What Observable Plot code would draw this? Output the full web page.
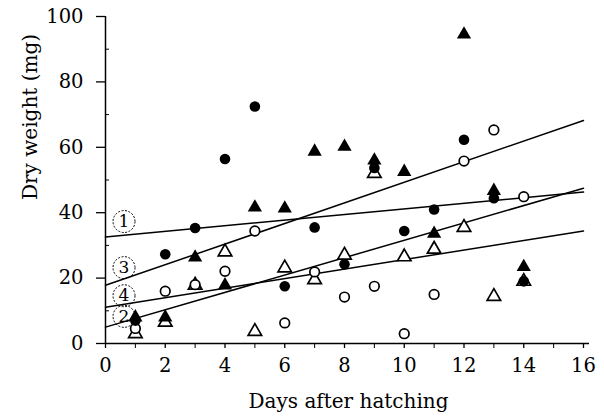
<!DOCTYPE html>
<html>
<head>
<meta charset="utf-8">
<script src="https://cdn.jsdelivr.net/npm/d3@7"></script>
<script src="https://cdn.jsdelivr.net/npm/@observablehq/plot@0.6"></script>
<style>
  html, body { margin: 0; padding: 0; background: #fff; }
  #chart svg { display: block; }
</style>
</head>
<body>
<div id="chart"></div>
<script>
// Days after hatching
const days = [1, 2, 3, 4, 5, 6, 7, 8, 9, 10, 11, 12, 13, 14];
// Dry weight (mg) per symbol series
const filledCircles   = [7, 27.3, 35.3, 56.4, 72.5, 17.5, 35.5, 24.2, 53.7, 34.4, 41, 62.3, 44.4, 19];
const filledTriangles = [8, 8, 26.3, 17.8, 41.6, 41.3, 58.7, 60.2, 56, 52.5, 33.6, 94.5, 46.7, 23.4];
const openCircles     = [4.6, 16, 18, 22.1, 34.4, 6.3, 21.9, 14.2, 17.5, 3, 15, 55.8, 65.3, 44.9];
const openTriangles   = [3, 6.5, 17.8, 28, 3.7, 23.1, 19.5, 27, 52, 26.5, 28.8, 35.5, 14.4, 19];

// Fitted lines: value at day 0 and at day 16
const lineIds    = ["1", "3", "4", "2"];
const lineStart  = [32.6, 17.8, 11.1, 5.0];
const lineEnd    = [46.3, 68.2, 34.4, 47.5];
const lineDays   = [0, 16];
// Circled line labels (day, mg)
const labelDay   = [0.62, 0.62, 0.62, 0.62];
const labelMg    = [37.3, 23.2, 14.6, 8.3];

// Axis ticks
const xTickLabels = [0, 2, 4, 6, 8, 10, 12, 14, 16];
const xMinorTicks = [1, 3, 5, 7, 9, 11, 13, 15];
const yTickLabels = [0, 20, 40, 60, 80, 100];
const yMinorTicks = [10, 30, 50, 70, 90];

const pts = (vals) => days.map((d, i) => ({day: d, mg: vals[i]}));
const lines = lineIds.flatMap((id, i) => [
  {id, day: lineDays[0], mg: lineStart[i]},
  {id, day: lineDays[1], mg: lineEnd[i]}
]);
const labels = lineIds.map((id, i) => ({id, day: labelDay[i], mg: labelMg[i]}));

const chart = Plot.plot({
  width: 604,
  height: 416,
  marginLeft: 105,
  marginRight: 21,
  marginTop: 16,
  marginBottom: 73,
  style: {fontFamily: "'DejaVu Serif', serif", fontSize: "19.5px", background: "#fff", color: "#000"},
  x: {domain: [0, 16]},
  y: {domain: [0, 100]},
  marks: [
    Plot.ruleX([0], {stroke: "#000", strokeWidth: 1.5}),
    Plot.ruleY([0], {stroke: "#000", strokeWidth: 1.5, insetRight: -6}),
    Plot.axisY(yTickLabels, {tickSize: 9, tickPadding: 13, label: null, strokeWidth: 1.3, fill: "#000"}),
    Plot.axisY(yMinorTicks, {tickSize: -4, tickFormat: () => "", label: null}),
    Plot.axisX(xMinorTicks, {tickSize: 5, tickFormat: () => "", label: null}),
    Plot.axisX(xTickLabels, {tickSize: 5, tickPadding: 10, label: null, strokeWidth: 1.3, fill: "#000"}),
    Plot.text(["Dry weight (mg)"], {frameAnchor: "left", dx: -75, dy: 20, rotate: -90, fontSize: 20, fill: "#000"}),
    Plot.text(["Days after hatching"], {frameAnchor: "bottom", dx: 4, dy: 64, fontSize: 20, fill: "#000"}),
    Plot.line(lines, {x: "day", y: "mg", z: "id", stroke: "#000", strokeWidth: 1.5}),
    Plot.dot(labels, {x: "day", y: "mg", r: 11, stroke: "#000", strokeWidth: 1, strokeDasharray: "2,1.5", fill: "none"}),
    Plot.text(labels, {x: "day", y: "mg", text: "id", fontSize: 17, fill: "#000"}),
    Plot.dot(pts(openTriangles), {x: "day", y: "mg", symbol: "triangle", r: 5, stroke: "#000", strokeWidth: 1.7, fill: "#fff"}),
    Plot.dot(pts(openCircles), {x: "day", y: "mg", r: 4.8, stroke: "#000", strokeWidth: 1.7, fill: "#fff"}),
    Plot.dot(pts(filledCircles), {x: "day", y: "mg", r: 5.3, fill: "#000", stroke: "none"}),
    Plot.dot(pts(filledTriangles), {x: "day", y: "mg", symbol: "triangle", r: 5.3, fill: "#000", stroke: "none"})
  ]
});
document.getElementById("chart").appendChild(chart);
</script>
</body>
</html>
